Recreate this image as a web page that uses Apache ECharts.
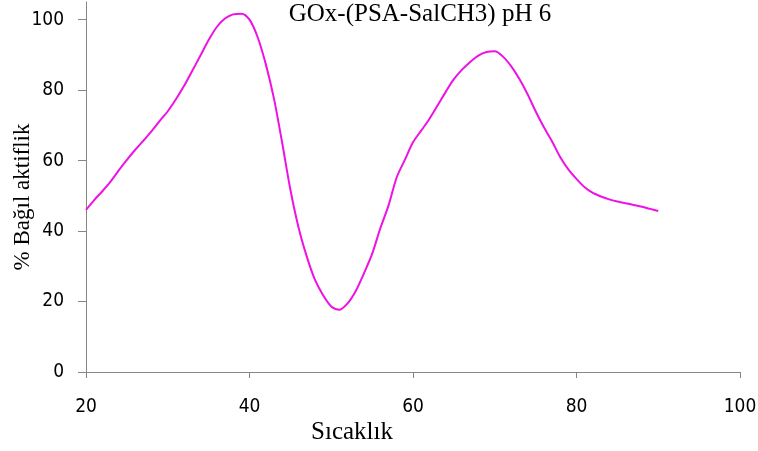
<!DOCTYPE html>
<html>
<head>
<meta charset="utf-8">
<script src="https://cdn.jsdelivr.net/npm/echarts@6/dist/echarts.min.js"></script>
<style>
  html, body { margin: 0; padding: 0; background: #fff; }
  #chart { width: 758px; height: 451px; }
</style>
</head>
<body>
<div id="chart"></div>
<script>
// Temperature (°C) readings, one per degree
const temps = [20, 21, 22, 23, 24, 25, 26, 27, 28, 29,
               30, 31, 32, 33, 34, 35, 36, 37, 38, 39,
               40, 41, 42, 43, 44, 45, 46, 47, 48, 49,
               50, 51, 52, 53, 54, 55, 56, 57, 58, 59,
               60, 61, 62, 63, 64, 65, 66, 67, 68, 69,
               70, 71, 72, 73, 74, 75, 76, 77, 78, 79,
               80, 81, 82, 83, 84, 85, 86, 87, 88, 89, 90];
// Relative activity (%) at each temperature
const activity = [46.0, 48.8, 51.3, 54.0, 57.2, 60.2, 63.0, 65.6, 68.3, 71.2,
                  74.0, 77.4, 81.2, 85.5, 89.8, 94.2, 97.9, 100.3, 101.5, 101.7,
                  100.0, 95.0, 87.3, 77.5, 65.0, 51.8, 41.0, 32.8, 26.2, 21.8,
                  18.6, 17.7, 19.5, 23.0, 28.0, 33.5, 40.8, 47.2, 55.2, 60.2,
                  65.2, 68.5, 71.8, 75.6, 79.5, 83.1, 85.8, 88.0, 89.8, 90.8,
                  91.0, 89.5, 86.8, 83.2, 78.9, 74.0, 69.5, 65.5, 61.0, 57.5,
                  54.8, 52.4, 50.8, 49.8, 49.0, 48.4, 47.9, 47.4, 46.9, 46.3, 45.7];

// Tick labels
const xTicks = [20, 40, 60, 80, 100];
const yTicks = [0, 20, 40, 60, 80, 100];

const titleText = 'GOx-(PSA-SalCH3) pH 6';
const xName = 'Sıcaklık';
const yName = '% Bağıl aktiflik';

const chart = echarts.init(document.getElementById('chart'), null, { renderer: 'canvas' });

const axisColor = '#868686';
const tickFont = { fontFamily: "'DejaVu Sans Condensed', 'DejaVu Sans', sans-serif", fontSize: 19, color: '#000' };
const serif = "'Liberation Serif', 'DejaVu Serif', serif";

chart.setOption({
  animation: false,
  backgroundColor: '#fff',
  grid: { left: 86, right: 18, top: 2, bottom: 79, containLabel: false, outerBoundsMode: 'none' },
  graphic: [{
    type: 'text',
    x: 420,
    y: 14,
    style: {
      text: titleText,
      font: '25px ' + serif,
      fill: '#000',
      textAlign: 'center',
      textVerticalAlign: 'middle'
    }
  }],
  xAxis: {
    type: 'value',
    min: 20,
    max: 100,
    interval: 20,
    name: xName,
    nameLocation: 'middle',
    nameGap: 48,
    nameMoveOverlap: false,
    nameTextStyle: { fontFamily: serif, fontSize: 25, color: '#000', padding: [0, 122, 0, 0] },
    axisLine: { show: true, onZero: false, lineStyle: { color: axisColor, width: 1 } },
    axisTick: { show: true, length: 6, lineStyle: { color: axisColor }, customValues: xTicks },
    axisLabel: Object.assign({ margin: 26, customValues: xTicks }, tickFont),
    splitLine: { show: false }
  },
  yAxis: {
    type: 'value',
    min: 0,
    max: 105,
    interval: 20,
    name: yName,
    nameLocation: 'middle',
    nameGap: 52,
    nameRotate: 90,
    nameMoveOverlap: false,
    nameTextStyle: { fontFamily: serif, fontSize: 23, color: '#000', padding: [0, 20, 0, 0] },
    axisLine: { show: true, lineStyle: { color: axisColor, width: 1 } },
    axisTick: { show: true, length: 8, lineStyle: { color: axisColor }, customValues: yTicks },
    axisLabel: Object.assign({ margin: 22, customValues: yTicks }, tickFont),
    splitLine: { show: false }
  },
  series: [{
    type: 'line',
    data: temps.map((t, i) => [t, activity[i]]),
    smooth: 0.3,
    showSymbol: false,
    lineStyle: { color: '#EE12E4', width: 2 },
    itemStyle: { color: '#EE12E4' }
  }]
});
</script>
</body>
</html>
